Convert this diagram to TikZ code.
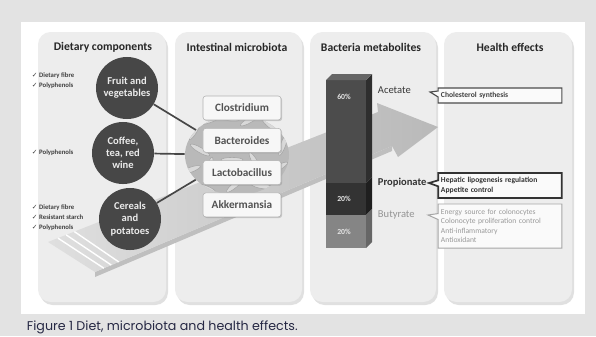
\documentclass[tikz,border=0pt]{standalone}
\usepackage{fontspec}
\setmainfont{Carlito}
\newfontfamily\capfont{Poppins}
\newfontfamily\symfont{DejaVu Sans}
\usetikzlibrary{shapes.geometric,shapes.callouts,shadows,calc}
\definecolor{capblue}{RGB}{38,40,68}

\begin{document}
\begin{tikzpicture}[x=0.025cm,y=-0.025cm,
  panel/.style={fill=gray!14,rounded corners=9pt},
  head/.style={font=\fontsize{8.3}{9}\selectfont\bfseries,text=black!85},
  food/.style={circle,fill=black!72,text=black!8,minimum size=1.55cm,inner sep=0pt,align=center,font=\fontsize{7.5}{8.7}\selectfont\bfseries},
  list/.style={anchor=west,align=left,font=\fontsize{4.8}{7.2}\selectfont\bfseries,text=black!75},
  bug/.style={draw=gray!60,fill=gray!6,rounded corners=2pt,minimum width=1.95cm,minimum height=0.6cm,font=\fontsize{8}{9}\selectfont\bfseries,text=black!68,drop shadow={opacity=0.35,shadow xshift=0.8pt,shadow yshift=-0.8pt}},
  rod/.style={ellipse,draw=gray!70,fill=gray!30,minimum width=0.55cm,minimum height=0.13cm,inner sep=0pt},
  link/.style={line width=1.2pt,black!72},
  acid/.style={anchor=west,font=\fontsize{7.5}{8}\selectfont},
  pct/.style={font=\fontsize{5.5}{6}\selectfont\bfseries,text=black!10},
  effect/.style={rectangle callout,fill=gray!4,text width=2.95cm,inner sep=2pt,align=left,callout pointer width=0.15cm,font=\fontsize{5.4}{6.6}\selectfont\bfseries}]

\useasboundingbox (0,0) rectangle (596,336);
\fill[gray!22] (0,0) rectangle (596,336);
\fill[white] (21,22) rectangle (585,314);

\foreach \xa/\xb in {38/166,175/302,310/436,444/572}{
  \fill[gray!24,rounded corners=9pt] (\xa+2,35) rectangle (\xb+2,305);
  \fill[panel] (\xa,32) rectangle (\xb,302);}

\node[head] (hdiet) at (103,47) {Dietary components};
\node[head] (hbiota) at (237,47) {Intestinal microbiota};
\node[head] (hmetab) at (371,47) {Bacteria metabolites};
\node[head] (heffect) at (510,47) {Health effects};

\coordinate (A) at (48,242);
\coordinate (B) at (378,112);
\coordinate (C) at (392,146);
\coordinate (D) at (95,272);
\fill[gray!50] (D) -- (C) -- ($(C)+(0,5)$) -- ($(D)+(0,5)$) -- cycle;
\shade[left color=gray!25,right color=gray!55] (A) -- (B) -- (377,103) -- (438,127) -- (398,157) -- (C) -- (D) -- cycle;
\foreach \s in {0.03,0.055,0.08}
  \draw[white,line width=1pt] ($(A)!\s!(B)$) -- ($(D)!\s!(C)$);

\node[ellipse,fill=gray!55,minimum width=2.6cm,minimum height=2cm] (biota) at (237,155) {};
\begin{scope}
\clip (237,155) ellipse [x radius=1.3cm,y radius=1cm];
\foreach \a/\b/\r in {195/130/60,210/120/20,228/118/-10,250/120/30,270/125/-40,283/145/70,
  200/150/-30,220/140/45,245/138/-20,265/145/10,190/170/20,210/168/80,232/160/0,
  255/162/-60,278/168/30,205/188/-20,235/185/40,262/186/-10}
  \node[rod,rotate=\r] at (\a,\b) {};
\end{scope}

\node[food] (fruit) at (127,88) {Fruit and\\vegetables};
\node[food] (coffee) at (123,153) {Coffee,\\tea, red\\wine};
\node[food] (cereal) at (130,219) {Cereals\\and\\potatoes};
\foreach \f in {fruit,coffee,cereal}
  \draw[link] (\f) -- (biota);

\node[list] (lfruit) at (27,81) {{\symfont ✓} Dietary fibre\\{\symfont ✓} Polyphenols};
\node[list] (lcoffee) at (27,153) {{\symfont ✓} Polyphenols};
\node[list] (lcereal) at (27,218) {{\symfont ✓} Dietary fibre\\{\symfont ✓} Resistant starch\\{\symfont ✓} Polyphenols};

\foreach \n/\t [count=\i] in {clos/Clostridium,bact/Bacteroides,lacto/Lactobacillus,akk/Akkermansia}
  \node[bug] (\n) at (242,{75.7+32.3*\i}) {\t};

\foreach \ya/\yb/\c/\d in {80/183/70/82,183/215/80/88,215/248/48/60}{
  \fill[black!\c] (326,\ya) rectangle (366,\yb);
  \fill[black!\d] (366,\ya) -- (372,\ya-6) -- (372,\yb-6) -- (366,\yb) -- cycle;}
\fill[black!60] (326,80) -- (332,74) -- (372,74) -- (366,80) -- cycle;
\node[pct] (pa) at (344,97) {60\%};
\node[pct] (pp) at (344,199) {20\%};
\node[pct] (pb) at (344,232) {20\%};

\node[acid,text=black!78] (acetate) at (373,90) {Acetate};
\node[acid,text=black!80,font=\fontsize{7.5}{8}\selectfont\bfseries] (propionate) at (373,183) {Propionate};
\node[acid,text=black!42] (butyrate) at (373,215) {Butyrate};

\coordinate (tipA) at (430,92);
\coordinate (tipP) at (429,183);
\coordinate (tipB) at (428,215);
\node[effect,draw=black!70,line width=0.8pt,text=black!75,minimum height=0.375cm,callout absolute pointer={(tipA)}] (chol) at (500,95.5) {Cholesterol synthesis};
\node[effect,draw=black!80,line width=1.2pt,text=black!80,minimum height=0.625cm,callout absolute pointer={(tipP)}] (hepatic) at (500,185.5) {Hepatic lipogenesis regulation\\Appetite control};
\node[effect,draw=black!35,line width=0.7pt,text=black!40,minimum height=1.1cm,font=\fontsize{5.4}{6.6}\selectfont,callout absolute pointer={(tipB)}] (energy) at (500,226) {Energy source for colonocytes\\Colonocyte proliferation control\\Anti-inflammatory\\Antioxidant};

\node[anchor=base west,font=\capfont\fontsize{9}{10}\selectfont,text=capblue] (caption) at (22,330) {Figure 1 Diet, microbiota and health effects.};
\end{tikzpicture}
\end{document}
